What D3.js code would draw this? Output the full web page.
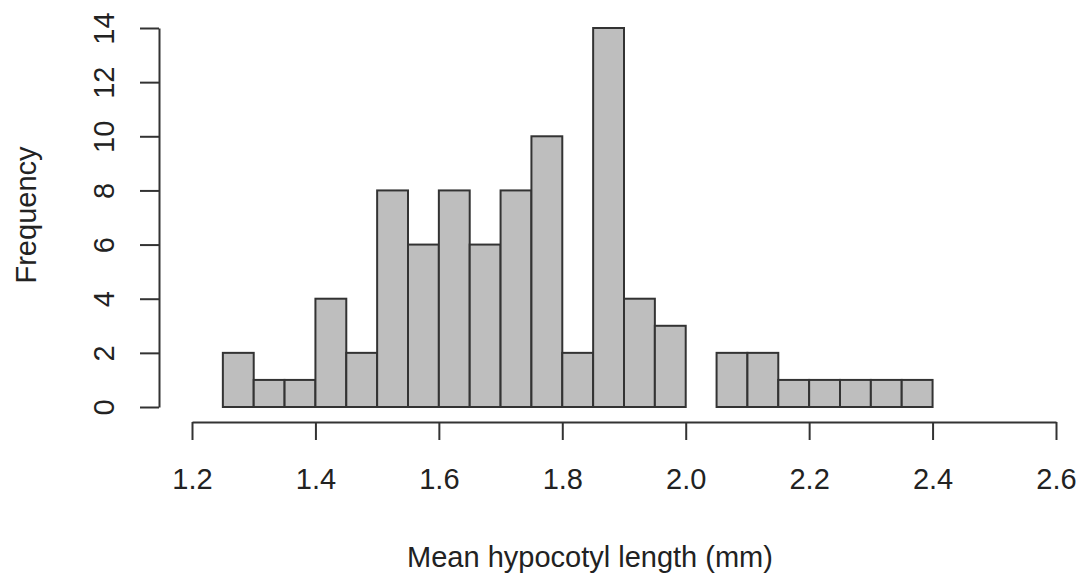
<!DOCTYPE html>
<html>
<head>
<meta charset="utf-8">
<script src="https://cdn.jsdelivr.net/npm/d3@7"></script>
<style>
  body { margin: 0; background: #fff; }
  text { font-family: Arial, "Liberation Sans", sans-serif; fill: #222; }
</style>
</head>
<body>
<svg width="1092" height="578"></svg>
<script>
// histogram bins (left edges) and counts
var binStart = [1.25, 1.30, 1.35, 1.40, 1.45, 1.50, 1.55, 1.60, 1.65, 1.70, 1.75, 1.80,
                1.85, 1.90, 1.95, 2.00, 2.05, 2.10, 2.15, 2.20, 2.25, 2.30, 2.35];
var counts = [2, 1, 1, 4, 2, 8, 6, 8, 6, 8, 10, 2, 14, 4, 3, 0, 2, 2, 1, 1, 1, 1, 1];
var binWidth = 0.05;
var xTicks = [1.2, 1.4, 1.6, 1.8, 2.0, 2.2, 2.4, 2.6];
var yTicks = [0, 2, 4, 6, 8, 10, 12, 14];

var svg = d3.select('svg');
var x = d3.scaleLinear().domain([1.2, 2.6]).range([192, 1056]);
var y = d3.scaleLinear().domain([0, 14]).range([407, 28]);

// bars
svg.selectAll('rect.bar').data(binStart).enter().append('rect')
  .attr('class', 'bar')
  .attr('x', function(d) { return x(d); })
  .attr('width', function(d) { return x(d + binWidth) - x(d); })
  .attr('y', function(d, i) { return y(counts[i]); })
  .attr('height', function(d, i) { return y(0) - y(counts[i]); })
  .attr('fill', '#bebebe')
  .attr('stroke', '#333')
  .attr('stroke-width', 2);

// x axis
var xg = svg.append('g').attr('transform', 'translate(0,422)')
  .call(d3.axisBottom(x).tickValues(xTicks).tickFormat(d3.format('.1f')).tickSize(18).tickPadding(28).tickSizeOuter(0));
xg.select('.domain').attr('stroke', '#333').attr('stroke-width', 2);
xg.selectAll('.tick line').attr('stroke', '#333').attr('stroke-width', 2);
xg.selectAll('.tick text').attr('font-size', 29).attr('fill', '#222')
  .attr('font-family', 'Arial, "Liberation Sans", sans-serif');

// y axis
var yg = svg.append('g').attr('transform', 'translate(159,0)')
  .call(d3.axisLeft(y).tickValues(yTicks).tickSize(19).tickSizeOuter(0));
yg.select('.domain').attr('stroke', '#333').attr('stroke-width', 2);
yg.selectAll('.tick line').attr('stroke', '#333').attr('stroke-width', 2);
yg.selectAll('.tick text').remove();
yg.selectAll('.tick').append('text')
  .attr('transform', 'translate(-45,0) rotate(-90)')
  .attr('text-anchor', 'middle')
  .attr('font-size', 29)
  .attr('fill', '#222')
  .attr('font-family', 'Arial, "Liberation Sans", sans-serif')
  .text(function(d) { return d; });

// axis titles
svg.append('text')
  .attr('x', 590).attr('y', 567)
  .attr('text-anchor', 'middle')
  .attr('font-size', 29)
  .text('Mean hypocotyl length (mm)');
svg.append('text')
  .attr('transform', 'translate(36,215) rotate(-90)')
  .attr('text-anchor', 'middle')
  .attr('font-size', 29)
  .text('Frequency');
</script>
</body>
</html>
